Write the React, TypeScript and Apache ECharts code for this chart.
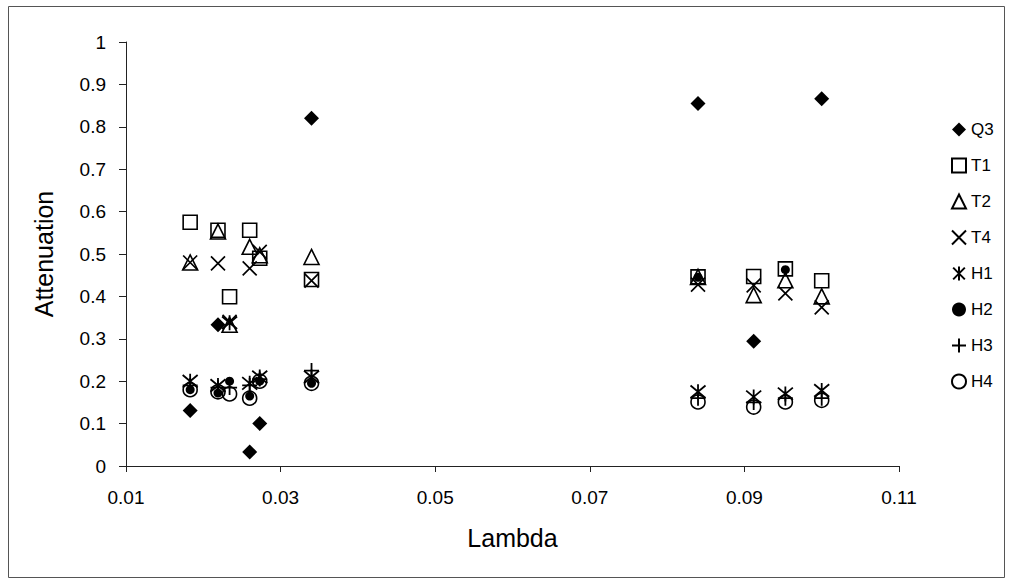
import React, { useEffect, useRef } from "react";
import * as echarts from "echarts";

// Lambda positions of the measurement columns
const LAMBDA = [0.0183, 0.0219, 0.0234, 0.0260, 0.0273, 0.0340, 0.0840, 0.0912, 0.0953, 0.1000];

const Q3 = [0.131, 0.333, null, 0.033, 0.100, 0.820, 0.855, 0.294, null, 0.866];
const T1 = [0.575, 0.556, 0.399, 0.556, 0.490, 0.440, 0.446, 0.447, 0.465, 0.437];
const T2 = [0.480, 0.553, 0.333, 0.517, 0.497, 0.493, 0.446, 0.403, 0.438, 0.400];
const T4 = [0.480, 0.478, 0.340, 0.466, 0.505, 0.437, 0.428, 0.426, 0.407, 0.374];
const H1 = [0.200, 0.190, 0.338, 0.195, 0.210, 0.210, 0.175, 0.163, 0.170, 0.178];
const H2 = [0.180, 0.172, 0.200, 0.165, 0.200, 0.195, 0.445, null, 0.463, null];
const H3 = [0.190, 0.185, 0.185, 0.190, 0.205, 0.225, 0.160, 0.150, 0.160, 0.160];
const H4 = [0.180, 0.175, 0.170, 0.160, 0.200, 0.195, 0.151, 0.139, 0.151, 0.155];

const X_TICKS = [0.01, 0.03, 0.05, 0.07, 0.09, 0.11];

const FONT = "'Liberation Sans', Arial, sans-serif";

const pts = (vals: (number | null)[]) =>
  LAMBDA.map((x, i) => [x, vals[i]]).filter((p) => p[1] !== null);

const X_PATH = "path://M0 0L10 10M10 0L0 10";
const AST_PATH = "path://M0 0L10 10M10 0L0 10M5 -1L5 11";
const PLUS_PATH = "path://M5 0L5 10M0 5L10 5";

export default function App() {
  const ref = useRef<HTMLDivElement>(null);

  useEffect(() => {
    if (!ref.current) return;
    const chart = echarts.init(ref.current, null, { renderer: "svg" });
    const hollow = { color: "rgba(0,0,0,0)", borderColor: "#000", borderWidth: 1.6, opacity: 1 };
    const stroke = (w: number) => ({ color: "rgba(0,0,0,0)", borderColor: "#000", borderWidth: w, opacity: 1 });
    const mk = (name: string, vals: (number | null)[], symbol: string, size: number, itemStyle: any) => ({
      name,
      type: "scatter",
      data: pts(vals),
      symbol,
      symbolSize: size,
      itemStyle,
      emphasis: { disabled: true },
    });
    chart.setOption({
      animation: false,
      backgroundColor: "#fff",
      textStyle: { fontFamily: FONT },
      grid: { left: 126, right: 111, top: 42, bottom: 117, containLabel: false },
      graphic: [
        {
          type: "rect",
          shape: { x: 8.5, y: 6.5, width: 996, height: 571 },
          style: { fill: "none", stroke: "#555", lineWidth: 1 },
          silent: true,
        },
      ],
      xAxis: {
        type: "value",
        min: 0.01,
        max: 0.11,
        name: "Lambda",
        nameLocation: "middle",
        nameGap: 59,
        nameTextStyle: { fontSize: 25, color: "#000", fontFamily: FONT },
        axisLine: { show: true, lineStyle: { color: "#222", width: 1 } },
        axisTick: { show: true, length: 6, lineStyle: { color: "#222" }, customValues: X_TICKS },
        axisLabel: {
          customValues: X_TICKS,
          formatter: (v: number) => v.toFixed(2),
          fontSize: 19,
          color: "#000",
          margin: 22,
          fontFamily: FONT,
        },
        splitLine: { show: false },
      },
      yAxis: {
        type: "value",
        min: 0,
        max: 1,
        interval: 0.1,
        name: "Attenuation",
        nameLocation: "middle",
        nameGap: 70,
        nameRotate: 90,
        nameTextStyle: { fontSize: 25, color: "#000", fontFamily: FONT },
        axisLine: { show: true, lineStyle: { color: "#222", width: 1 } },
        axisTick: { show: true, length: 7, lineStyle: { color: "#222" } },
        axisLabel: {
          formatter: (v: number) => String(+v.toFixed(1)),
          fontSize: 19,
          color: "#000",
          margin: 20,
          fontFamily: FONT,
        },
        splitLine: { show: false },
      },
      legend: {
        orient: "vertical",
        left: 946,
        top: 116,
        itemWidth: 14,
        itemHeight: 14,
        itemGap: 19,
        textStyle: { fontSize: 17, color: "#000", fontFamily: FONT },
        data: ["Q3", "T1", "T2", "T4", "H1", "H2", "H3", "H4"],
      },
      series: [
        mk("Q3", Q3, "diamond", 15, { color: "#000", opacity: 1 }),
        mk("T1", T1, "rect", 14, hollow),
        mk("T2", T2, "triangle", 15, hollow),
        mk("T4", T4, X_PATH, 14, stroke(1.7)),
        mk("H1", H1, AST_PATH, 15, stroke(1.8)),
        mk("H2", H2, "circle", 9, { color: "#000", opacity: 1 }),
        mk("H3", H3, PLUS_PATH, 15, stroke(1.8)),
        mk("H4", H4, "circle", 14, hollow),
      ],
    });
    return () => chart.dispose();
  }, []);

  return (
    <div
      ref={ref}
      style={{ position: "fixed", left: 0, top: 0, width: 1010, height: 583, background: "#fff" }}
    />
  );
}
